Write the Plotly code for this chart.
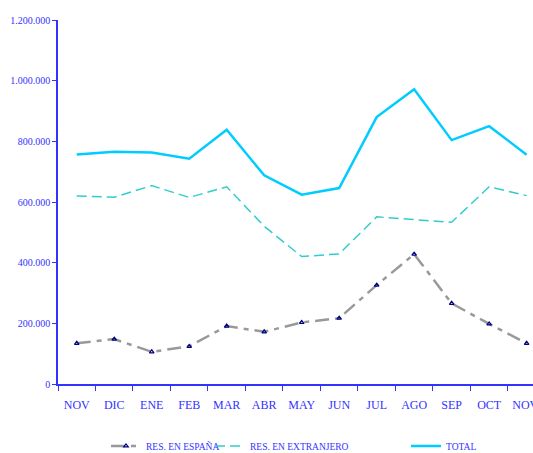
import plotly.graph_objects as go

months = ["NOV", "DIC", "ENE", "FEB", "MAR", "ABR", "MAY", "JUN", "JUL", "AGO", "SEP", "OCT", "NOV "]
res_espana = [134000, 148000, 106000, 124000, 191000, 172000, 203000, 217000, 326000, 428000, 266000, 198000, 134000]
res_extranjero = [620000, 616000, 654000, 615000, 650000, 520000, 420000, 429000, 551000, 541000, 533000, 650000, 621000]
total = [757000, 766000, 763000, 743000, 838000, 688000, 624000, 646000, 880000, 972000, 804000, 850000, 756000]
y_tickvals = [0, 200000, 400000, 600000, 800000, 1000000, 1200000]
y_ticktext = ["0", "200.000", "400.000", "600.000", "800.000", "1.000.000", "1.200.000"]

AXIS = "#3333ff"
FONT = "Liberation Serif"

fig = go.Figure()
fig.add_trace(go.Scatter(
    x=months, y=res_espana, name="RES. EN ESPAÑA", mode="lines+markers",
    line=dict(color="#999999", width=2.5, dash="14px,6px,5px,6px"),
    marker=dict(symbol="triangle-up-open", size=4, color="#000080", line=dict(width=1.2, color="#000080")),
    legend="legend"))
fig.add_trace(go.Scatter(
    x=months, y=res_extranjero, name="RES. EN EXTRANJERO", mode="lines",
    line=dict(color="#33cccc", width=1.5, dash="10px,5px"),
    legend="legend2"))
fig.add_trace(go.Scatter(
    x=months, y=total, name="TOTAL", mode="lines",
    line=dict(color="#00ccff", width=2.5),
    legend="legend3"))

plot_w = 533 - 58
def px_x(p):
    return (p - 58) / plot_w

leg_common = dict(orientation="h", yanchor="middle", y=-0.170, xanchor="left",
                  font=dict(family=FONT, size=9.5, color=AXIS), bgcolor="rgba(0,0,0,0)",
                  itemwidth=30, tracegroupgap=0, borderwidth=0)

fig.update_layout(
    width=533, height=453,
    margin=dict(l=58, r=0, t=20, b=69, autoexpand=False),
    paper_bgcolor="white", plot_bgcolor="white",
    font=dict(family=FONT, color=AXIS),
    showlegend=True,
    legend=dict(leg_common, x=px_x(106)),
    legend2=dict(leg_common, x=px_x(210)),
    legend3=dict(leg_common, x=px_x(406)),
    xaxis=dict(
        type="category", range=[-0.5, 12.17], showgrid=False, zeroline=False,
        showline=True, linecolor=AXIS, linewidth=1.5,
        ticks="outside", tickson="boundaries", ticklen=5, tickcolor=AXIS, tickwidth=1.2,
        ticklabelstandoff=9,
        tickfont=dict(family=FONT, size=12, color=AXIS), automargin=False,
    ),
    yaxis=dict(
        range=[0, 1200000], tickvals=y_tickvals, ticktext=y_ticktext,
        showgrid=False, zeroline=False, showline=True, linecolor=AXIS, linewidth=1.5,
        ticks="outside", ticklen=4, tickcolor=AXIS, tickwidth=1.2,
        tickfont=dict(family=FONT, size=10, color=AXIS), automargin=False,
    ),
)

fig.write_html("out.html", config={"displayModeBar": False},
               post_script="document.body.style.margin='0';document.body.style.overflow='hidden';")
